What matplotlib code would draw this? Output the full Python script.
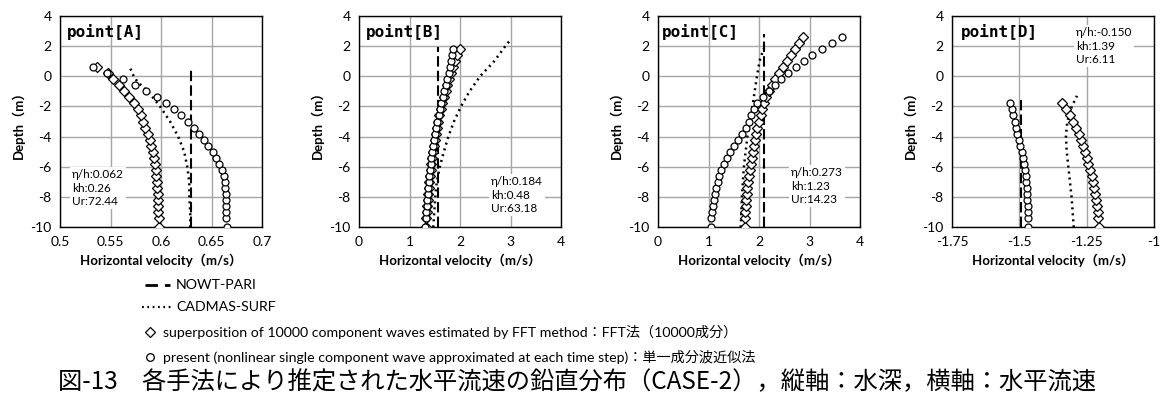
import matplotlib
matplotlib.use("Agg")
import matplotlib.pyplot as plt
from matplotlib.lines import Line2D

plt.rcParams['font.family'] = ['Lato', 'Noto Sans CJK JP', 'DejaVu Sans']
plt.rcParams['axes.unicode_minus'] = False

# depth levels (m) shared by the FFT / present series, bottom first
DEPTH = [-10.0, -9.4, -9.0, -8.6, -8.2, -7.8, -7.4, -7.0, -6.6, -6.2, -5.8, -5.4, -5.0,
         -4.6, -4.2, -3.8, -3.4, -3.0, -2.6, -2.2, -1.8, -1.4, -1.0, -0.6, -0.2, 0.2,
         0.6, 1.0, 1.4, 1.8, 2.2, 2.6]

# point A
FFT_A = [0.598, 0.598, 0.597, 0.597, 0.597, 0.597, 0.596, 0.596, 0.595, 0.595, 0.594,
         0.593, 0.592, 0.590, 0.589, 0.587, 0.584, 0.582, 0.580, 0.577, 0.573, 0.568,
         0.563, 0.558, 0.552, 0.548, 0.537]
PRESENT_A = [0.665, 0.664, 0.664, 0.664, 0.664, 0.664, 0.663, 0.663, 0.662, 0.660, 0.657,
             0.654, 0.651, 0.647, 0.643, 0.638, 0.633, 0.627, 0.620, 0.613, 0.605, 0.596,
             0.585, 0.574, 0.562, 0.547, 0.533]
CADMAS_A_Z = [-10, -9, -8, -7, -6, -5, -4, -3, -2, -1, -0.4, 0, 0.6]
CADMAS_A = [0.629, 0.629, 0.628, 0.628, 0.626, 0.623, 0.617, 0.609, 0.599, 0.587, 0.577,
            0.573, 0.569]
NOWT_A_Z = [-10, 0.6]
NOWT_A = [0.63, 0.63]

# point B
FFT_B = [1.32, 1.33, 1.34, 1.35, 1.36, 1.37, 1.38, 1.39, 1.40, 1.42, 1.43, 1.45, 1.46,
         1.48, 1.50, 1.52, 1.54, 1.57, 1.59, 1.62, 1.65, 1.68, 1.72, 1.75, 1.79, 1.83,
         1.87, 1.91, 1.95, 2.00]
PRESENT_B = [1.31, 1.32, 1.33, 1.34, 1.35, 1.36, 1.37, 1.38, 1.39, 1.40, 1.42, 1.43, 1.45,
             1.47, 1.49, 1.51, 1.53, 1.55, 1.58, 1.60, 1.63, 1.66, 1.69, 1.72, 1.75, 1.78,
             1.81, 1.83, 1.85, 1.87]
CADMAS_B_Z = [-10, -9, -8, -7, -6, -5, -4, -3, -2, -1, 0, 1, 2, 2.4]
CADMAS_B = [1.47, 1.49, 1.51, 1.54, 1.60, 1.68, 1.77, 1.88, 2.02, 2.19, 2.40, 2.68, 2.90, 3.0]
NOWT_B_Z = [-10, 1.9]
NOWT_B = [1.56, 1.56]

# point C
FFT_C = [1.72, 1.73, 1.73, 1.74, 1.75, 1.76, 1.77, 1.78, 1.80, 1.82, 1.84, 1.86, 1.88,
         1.90, 1.92, 1.95, 1.97, 2.00, 2.03, 2.06, 2.10, 2.14, 2.20, 2.26, 2.32, 2.39,
         2.47, 2.55, 2.63, 2.71, 2.79, 2.87]
PRESENT_C = [1.05, 1.05, 1.06, 1.08, 1.10, 1.12, 1.15, 1.18, 1.21, 1.25, 1.30, 1.36, 1.43,
             1.50, 1.58, 1.66, 1.74, 1.80, 1.85, 1.90, 1.97, 2.08, 2.20, 2.32, 2.43, 2.58,
             2.73, 2.89, 3.05, 3.24, 3.44, 3.65]
CADMAS_C_Z = [-10, -8, -6, -4, -2, 0, 1, 1.5, 1.85]
CADMAS_C = [1.64, 1.66, 1.70, 1.77, 1.87, 1.96, 2.01, 2.06, 2.10]
NOWT_C_Z = [-10, 2.8]
NOWT_C = [2.09, 2.09]

# point D
FFT_D = [-1.206, -1.207, -1.209, -1.211, -1.214, -1.218, -1.222, -1.227, -1.232, -1.238,
         -1.244, -1.250, -1.257, -1.264, -1.272, -1.280, -1.289, -1.300, -1.312, -1.326,
         -1.341]
PRESENT_D = [-1.466, -1.467, -1.468, -1.469, -1.470, -1.471, -1.473, -1.475, -1.477, -1.480,
             -1.483, -1.487, -1.491, -1.496, -1.501, -1.507, -1.512, -1.517, -1.523, -1.529,
             -1.536]
CADMAS_D_Z = [-10, -9, -8, -7, -6, -5, -4, -3, -2, -1.3]
CADMAS_D = [-1.298, -1.302, -1.306, -1.312, -1.318, -1.324, -1.327, -1.322, -1.305, -1.286]
NOWT_D_Z = [-10, -1.45]
NOWT_D = [-1.492, -1.492]

POINTS = ['A', 'B', 'C', 'D']
STATS = ['η/h:0.062\nkh:0.26\nUr:72.44',
         'η/h:0.184\nkh:0.48\nUr:63.18',
         'η/h:0.273\nkh:1.23\nUr:14.23',
         'η/h:-0.150\nkh:1.39\nUr:6.11']
X_TICKS = [[0.5, 0.55, 0.6, 0.65, 0.7], [0, 1, 2, 3, 4], [0, 1, 2, 3, 4],
           [-1.75, -1.5, -1.25, -1]]
X_LABELS = [['0.5', '0.55', '0.6', '0.65', '0.7'], ['0', '1', '2', '3', '4'],
            ['0', '1', '2', '3', '4'], ['-1.75', '-1.5', '-1.25', '-1']]
Y_TICKS = [4, 2, 0, -2, -4, -6, -8, -10]
Y_LABELS = ['4', '2', '0', '-2', '-4', '-6', '-8', '-10']

LEGEND_LABELS = ['NOWT-PARI', 'CADMAS-SURF',
                 'superposition of 10000 component waves estimated by FFT method：FFT法（10000成分）',
                 'present (nonlinear single component wave approximated at each time step)：単一成分波近似法']
CAPTION = '図-13　各手法により推定された水平流速の鉛直分布（CASE-2），縦軸：水深，横軸：水平流速'

W, H = 1163, 403
fig = plt.figure(figsize=(W / 100, H / 100), dpi=100)

lefts = [60, 359, 658, 952]
ax_w, top, bot = 202, 15.7, 227.3

panels = [
    (FFT_A, PRESENT_A, CADMAS_A_Z, CADMAS_A, NOWT_A_Z, NOWT_A),
    (FFT_B, PRESENT_B, CADMAS_B_Z, CADMAS_B, NOWT_B_Z, NOWT_B),
    (FFT_C, PRESENT_C, CADMAS_C_Z, CADMAS_C, NOWT_C_Z, NOWT_C),
    (FFT_D, PRESENT_D, CADMAS_D_Z, CADMAS_D, NOWT_D_Z, NOWT_D),
]

for i, (fft, present, cz, cad, nz, nowt) in enumerate(panels):
    ax = fig.add_axes([lefts[i] / W, 1 - bot / H, ax_w / W, (bot - top) / H])
    ax.plot(nowt, nz, color='black', lw=1.5, linestyle=(0, (5, 2)), zorder=3)
    ax.plot(cad, cz, color='black', lw=1.8, linestyle=(0, (0.8, 1.6)), zorder=3)
    n = len(fft)
    ax.plot(fft, DEPTH[:n], linestyle='none', marker='D', ms=5, mfc='white',
            mec='black', mew=0.9, zorder=4)
    ax.plot(present, DEPTH[:n], linestyle='none', marker='o', ms=5, mfc='white',
            mec='black', mew=0.9, zorder=5)

    ax.set_xlim(X_TICKS[i][0], X_TICKS[i][-1])
    ax.set_ylim(-10, 4)
    ax.set_xticks(X_TICKS[i])
    ax.set_xticklabels(X_LABELS[i])
    ax.set_yticks(Y_TICKS)
    ax.set_yticklabels(Y_LABELS)
    ax.tick_params(length=0, labelsize=10, pad=6)
    ax.grid(True, color='#a6a6a6', lw=1.0)
    ax.set_axisbelow(True)
    for sp in ax.spines.values():
        sp.set_color('black')
        sp.set_linewidth(1.0)
    ax.set_xlabel('Horizontal velocity（m/s）', fontsize=9.5, fontweight='bold', labelpad=4)
    ax.set_ylabel('Depth（m）', fontsize=9.5, fontweight='bold', labelpad=4)

# overlay in pixel coordinates for the in-plot texts, legend and caption
ov = fig.add_axes([0, 0, 1, 1])
ov.set_xlim(0, W)
ov.set_ylim(H, 0)
ov.axis('off')

title_x = [67, 366, 662, 961]
for i, p in enumerate(POINTS):
    ov.text(title_x[i], 32, f'point[{p}]', fontsize=11.5, fontweight='bold',
            family='DejaVu Sans Mono', va='center', ha='left')

stats_pos = [(72, 169), (491, 176), (791, 167), (1076, 27)]
for (sx, sy), s in zip(stats_pos, STATS):
    ov.text(sx, sy, s, fontsize=8.5, va='top', ha='left', linespacing=1.3,
            bbox=dict(boxstyle='square,pad=0.15', fc='white', ec='none'))

# legend
ov.add_line(Line2D([145, 173], [285, 285], color='black', lw=2, linestyle=(0, (4.5, 2.5, 2, 2.5))))
ov.text(176, 285, LEGEND_LABELS[0], fontsize=10.2, va='center', ha='left')
ov.add_line(Line2D([142, 172], [307, 307], color='black', lw=1.6, linestyle=(0, (0.8, 1.6))))
ov.text(176, 307, LEGEND_LABELS[1], fontsize=10.2, va='center', ha='left')
ov.plot([150], [332], marker='D', ms=5, mfc='white', mec='black', mew=0.9)
ov.text(163, 332, LEGEND_LABELS[2], fontsize=10.2, va='center', ha='left')
ov.plot([150], [357], marker='o', ms=5.5, mfc='white', mec='black', mew=0.9)
ov.text(163, 357, LEGEND_LABELS[3], fontsize=10.2, va='center', ha='left')

ov.text(58, 382, CAPTION, fontsize=17.5, family='Noto Sans CJK JP', va='center', ha='left')

fig.savefig('out.png', dpi=100)
